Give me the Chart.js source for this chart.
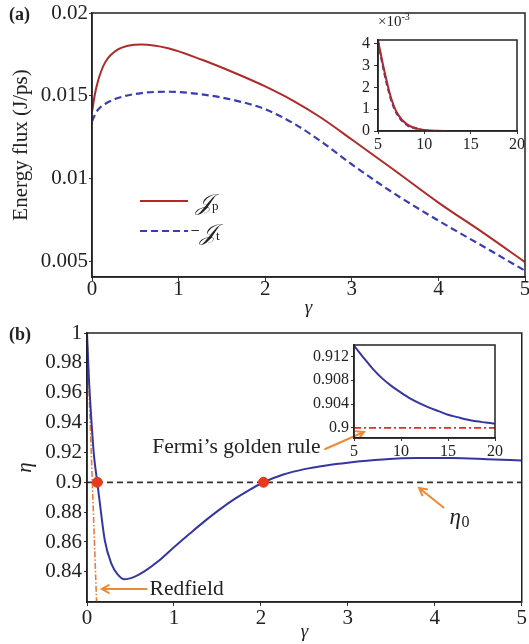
<!DOCTYPE html>
<html>
<head>
<meta charset="utf-8">
<script src="https://cdn.jsdelivr.net/npm/chart.js@4/dist/chart.umd.min.js"></script>
<style>
  body { margin: 0; background: #fff; }
  #fig { position: relative; width: 529px; height: 644px; font-family: "Liberation Serif", serif; color: #222; }
  .box { position: absolute; }
  .txt { position: absolute; white-space: nowrap; line-height: 1; }
</style>
</head>
<body>
<div id="fig">
  <div class="box" style="left:0;top:0;width:529px;height:320px"><canvas id="mainA"></canvas></div>
  <div class="box" style="left:345px;top:28px;width:184px;height:127px"><canvas id="insetA"></canvas></div>
  <div class="box" style="left:0;top:320px;width:529px;height:324px"><canvas id="mainB"></canvas></div>
  <div class="box" style="left:300px;top:335px;width:215px;height:127px"><canvas id="insetB"></canvas></div>

  <div class="txt" style="left:9px;top:5px;font-size:18px;font-weight:bold">(a)</div>
  <div class="txt" style="left:9px;top:325px;font-size:18px;font-weight:bold">(b)</div>
  <div class="txt" style="left:378px;top:12px;font-size:15px">&times;10<sup style="font-size:10px">-3</sup></div>

  <!-- legend of panel (a) -->
  <svg class="txt" style="left:138px;top:190px" width="54" height="50">
    <line x1="2" y1="11" x2="50" y2="11" stroke="#b02a2a" stroke-width="2"/>
    <line x1="2" y1="41" x2="50" y2="41" stroke="#3b3bb3" stroke-width="2.2" stroke-dasharray="7,4"/>
  </svg>
  <div class="txt" style="left:196px;top:191px;font-size:23px;font-style:italic;font-family:'DejaVu Serif','Liberation Serif',serif">&#x1D4A5;<span style="font-size:13px;font-style:normal;font-family:'Liberation Serif',serif">p</span></div>
  <div class="txt" style="left:190px;top:221px;font-size:23px;font-style:italic;font-family:'DejaVu Serif','Liberation Serif',serif"><span style="font-size:12px;font-style:normal;vertical-align:6px">&minus;</span>&#x1D4A5;<span style="font-size:13px;font-style:normal;font-family:'Liberation Serif',serif">t</span></div>
</div>

<script>
// panel (a): energy flux vs gamma
var gammaA = [0, 0.03, 0.07, 0.15, 0.3, 0.57, 0.88, 1.27, 1.65, 2.0, 2.32, 2.65, 3.0, 3.48, 4.0, 4.54, 5.0];
var fluxP = [0.0140, 0.0150, 0.0159, 0.0170, 0.0178, 0.0181, 0.01787, 0.01717, 0.01637, 0.01556, 0.01470, 0.01365, 0.01235, 0.01054, 0.00854, 0.00663, 0.00494];
var fluxT = [0.01345, 0.0138, 0.01416, 0.0145, 0.01486, 0.01516, 0.01524, 0.01508, 0.01472, 0.01418, 0.01335, 0.01222, 0.01085, 0.00912, 0.00745, 0.00582, 0.00442];
var ticksAx = [0, 1, 2, 3, 4, 5];
var ticksAy = [0.005, 0.01, 0.015, 0.02];

// inset of (a), values in units of 1e-3
var gammaInP = [5, 5.65, 6.37, 7.09, 8.17, 9.25, 10.3, 11.5, 12.5];
var fluxInP = [4.15, 2.82, 1.57, 0.80, 0.29, 0.11, 0.03, 0.01, 0];
var gammaInT = [5, 5.65, 6.37, 7.09, 8.17, 9.25, 10.3];
var fluxInT = [4.1, 2.7, 1.48, 0.74, 0.26, 0.09, 0.02];
var ticksInAx = [5, 10, 15, 20];
var ticksInAy = [0, 1, 2, 3, 4];

// panel (b): efficiency
var gammaB = [0, 0.02, 0.05, 0.08, 0.118, 0.15, 0.205, 0.28, 0.35, 0.434, 0.55, 0.66, 0.8, 1.0, 1.18, 1.35, 1.52, 1.69, 1.86, 2.03, 2.25, 2.5, 2.75, 3.0, 3.4, 3.8, 4.2, 4.6, 5.0];
var eta = [1.0, 0.972, 0.942, 0.918, 0.9, 0.885, 0.861, 0.8455, 0.8385, 0.835, 0.8368, 0.8403, 0.8462, 0.8565, 0.8655, 0.8738, 0.8815, 0.8885, 0.8946, 0.9, 0.905, 0.9088, 0.9113, 0.9131, 0.9152, 0.9162, 0.9162, 0.9155, 0.9146];
var eta0 = 0.9;
var redfieldGamma = [0, 0.11];
var redfieldEta = [1.0, 0.82];
var crossGamma = [0.118, 2.03];
var ticksBx = [0, 1, 2, 3, 4, 5];
var ticksBy = [0.84, 0.86, 0.88, 0.9, 0.92, 0.94, 0.96, 0.98, 1];

// inset of (b)
var gammaInB = [5, 6, 7, 8, 9, 10, 11, 12, 13, 14, 15, 16, 17, 18, 19, 20];
var etaInB = [0.9138, 0.9118, 0.9099, 0.9083, 0.9070, 0.9059, 0.9049, 0.9041, 0.9034, 0.9028, 0.9022, 0.9018, 0.9014, 0.9011, 0.9009, 0.9007];
var ticksInBx = [5, 10, 15, 20];
var ticksInBy = [0.9, 0.904, 0.908, 0.912];

// annotations of (b), in data units
var noteTexts = [
  { text: 'Fermi\u2019s golden rule', x: 0.75, y: 0.9236 },
  { text: 'Redfield', x: 0.72, y: 0.8285 }
];
var noteArrows = [
  { from: [2.74, 0.9223], to: [3.185, 0.9337] },
  { from: [4.10, 0.8831], to: [3.82, 0.8962] },
  { from: [0.685, 0.8285], to: [0.17, 0.8285] }
];
var etaLabel = { x: 4.17, y: 0.876 };

const SERIF = '"Liberation Serif", serif';
const pts = (xs, ys) => xs.map((x, i) => ({ x: x, y: ys[i] }));

const frame = {
  id: 'frame',
  afterDraw(chart) {
    const { ctx, chartArea: a } = chart;
    ctx.save();
    ctx.strokeStyle = '#222';
    ctx.lineWidth = 1.5;
    ctx.strokeRect(a.left, a.top, a.right - a.left, a.bottom - a.top);
    ctx.restore();
  }
};

function axis(opt) {
  return {
    type: 'linear',
    min: opt.min,
    max: opt.max,
    afterBuildTicks: s => { s.ticks = opt.ticks.map(v => ({ value: v })); },
    afterFit: s => {
      if (opt.width !== undefined) s.width = opt.width;
      if (opt.height !== undefined) s.height = opt.height;
    },
    grid: { display: true, drawOnChartArea: false, tickLength: opt.tick || 4, color: '#333', tickWidth: 1 },
    border: { display: true, color: '#222', width: 1.5 },
    ticks: {
      color: '#222',
      padding: opt.pad || 0,
      maxRotation: 0,
      autoSkip: false,
      font: { family: SERIF, size: opt.size || 21, lineHeight: 1 },
      callback: v => String(v)
    },
    title: opt.title ? {
      display: true,
      text: opt.title,
      color: '#222',
      padding: opt.titlePad || 0,
      font: { family: SERIF, size: opt.titleSize || 21, style: opt.italic ? 'italic' : 'normal' }
    } : { display: false }
  };
}

function baseOptions(pad, x, y) {
  return {
    responsive: true,
    maintainAspectRatio: false,
    animation: false,
    layout: { padding: pad },
    plugins: { legend: { display: false }, tooltip: { enabled: false } },
    elements: { point: { radius: 0 }, line: { tension: 0, cubicInterpolationMode: 'monotone' } },
    scales: { x: x, y: y }
  };
}

// panel (a)
new Chart('mainA', {
  type: 'line',
  data: {
    datasets: [
      { data: pts(gammaA, fluxP), borderColor: '#b02a2a', borderWidth: 2 },
      { data: pts(gammaA, fluxT), borderColor: '#3b3bb3', borderWidth: 2.2, borderDash: [7, 4] }
    ]
  },
  options: baseOptions({ top: 13, right: 4, left: 0, bottom: 0 },
    axis({ min: 0, max: 5, ticks: ticksAx, height: 43, tick: 4, pad: -2, title: '\u03b3', italic: true, titleSize: 19, titlePad: { bottom: 1 } }),
    axis({ min: 0.00404, max: 0.02, ticks: ticksAy, width: 92, tick: 3, pad: 1, title: 'Energy flux (J/ps)', titlePad: { top: 9 } })),
  plugins: [frame]
});

new Chart('insetA', {
  type: 'line',
  data: {
    datasets: [
      { data: pts(gammaInP, fluxInP), borderColor: '#b02a2a', borderWidth: 2 },
      { data: pts(gammaInT, fluxInT), borderColor: '#3b3bb3', borderWidth: 2, borderDash: [5, 3] }
    ]
  },
  options: baseOptions({ top: 6, right: 12, left: 0, bottom: 0 },
    axis({ min: 5, max: 20, ticks: ticksInAx, height: 24, tick: 3, pad: 3, size: 16 }),
    axis({ min: 0, max: 4.17, ticks: ticksInAy, width: 33, tick: 4, pad: 4, size: 16 })),
  plugins: [frame]
});

// panel (b)
const notes = {
  id: 'notes',
  afterDraw(chart) {
    const { ctx, scales: { x, y } } = chart;
    ctx.save();
    ctx.fillStyle = '#222';
    ctx.font = '21.5px ' + SERIF;
    ctx.textBaseline = 'middle';
    ctx.textAlign = 'left';
    noteTexts.forEach(n => ctx.fillText(n.text, x.getPixelForValue(n.x), y.getPixelForValue(n.y)));
    const ex = x.getPixelForValue(etaLabel.x), ey = y.getPixelForValue(etaLabel.y);
    ctx.font = 'italic 23px ' + SERIF;
    ctx.fillText('\u03b7', ex, ey);
    ctx.font = '16px ' + SERIF;
    ctx.fillText('0', ex + 12, ey + 5);
    ctx.strokeStyle = '#ef8a34';
    ctx.lineWidth = 2;
    ctx.lineCap = 'round';
    noteArrows.forEach(a => {
      const x1 = x.getPixelForValue(a.from[0]), y1 = y.getPixelForValue(a.from[1]);
      const x2 = x.getPixelForValue(a.to[0]), y2 = y.getPixelForValue(a.to[1]);
      const ang = Math.atan2(y2 - y1, x2 - x1);
      ctx.beginPath();
      ctx.moveTo(x1, y1);
      ctx.lineTo(x2, y2);
      ctx.moveTo(x2 - 8 * Math.cos(ang - 0.5), y2 - 8 * Math.sin(ang - 0.5));
      ctx.lineTo(x2, y2);
      ctx.lineTo(x2 - 8 * Math.cos(ang + 0.5), y2 - 8 * Math.sin(ang + 0.5));
      ctx.stroke();
    });
    ctx.restore();
  }
};

new Chart('mainB', {
  type: 'line',
  data: {
    datasets: [
      { data: pts(crossGamma, [eta0, eta0]), showLine: false, pointRadius: 5, pointBackgroundColor: '#e8391f', pointBorderColor: '#e8391f', pointBorderWidth: 1 },
      { data: pts(gammaB, eta), borderColor: '#3636a3', borderWidth: 2 },
      { data: pts(redfieldGamma, redfieldEta), borderColor: '#f07a3a', borderWidth: 1.6, borderDash: [6, 2, 1.5, 2] },
      { data: pts([0, 5], [eta0, eta0]), borderColor: '#333', borderWidth: 1.8, borderDash: [6, 4] }
    ]
  },
  options: baseOptions({ top: 13, right: 4, left: 0, bottom: 0 },
    axis({ min: 0, max: 5, ticks: ticksBx, height: 42, tick: 4, pad: 2, title: '\u03b3', italic: true, titleSize: 19, titlePad: { bottom: 1 } }),
    axis({ min: 0.8198, max: 1, ticks: ticksBy, width: 87, tick: 3, pad: 2, title: '\u03b7', italic: true, titlePad: { top: 13 } })),
  plugins: [frame, notes]
});

new Chart('insetB', {
  type: 'line',
  data: {
    datasets: [
      { data: pts(gammaInB, etaInB), borderColor: '#3636a3', borderWidth: 2 },
      { data: pts([5, 20], [eta0, eta0]), borderColor: '#e8282a', borderWidth: 1.8, borderDash: [7, 3, 2, 3] }
    ]
  },
  options: baseOptions({ top: 8, right: 20, left: 0, bottom: 0 },
    axis({ min: 5, max: 20, ticks: ticksInBx, height: 24, tick: 3, pad: 3, size: 16 }),
    axis({ min: 0.8983, max: 0.9139, ticks: ticksInBy, width: 54, tick: 3, pad: 2, size: 16 })),
  plugins: [frame]
});
</script>
</body>
</html>
